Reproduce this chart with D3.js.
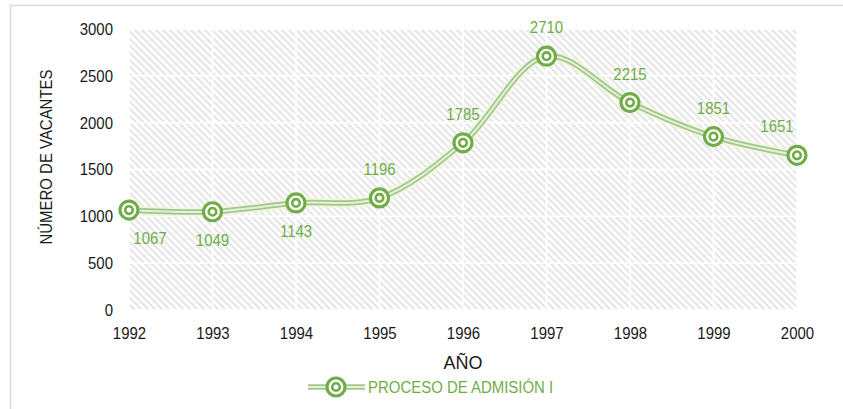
<!DOCTYPE html>
<html>
<head>
<meta charset="utf-8">
<script src="https://cdn.jsdelivr.net/npm/d3@7"></script>
<style>
  body { margin: 0; background: #fff; }
  svg { display: block; font-family: "Liberation Sans", Arial, sans-serif; }
</style>
</head>
<body>
<svg id="chart" width="843" height="409"></svg>
<script>
"use strict"

// data
const years = ["1992", "1993", "1994", "1995", "1996", "1997", "1998", "1999", "2000"]
const vacantes = [1067, 1049, 1143, 1196, 1785, 2710, 2215, 1851, 1651]
const yTicks = [0, 500, 1000, 1500, 2000, 2500, 3000]
const labelBelow = [true, true, true, false, false, false, false, false, false]
const seriesName = "PROCESO DE ADMISIÓN I"

const green = "#70AD47"
const ink = "#1a1a1a"
const squeeze = 0.88   // fake a narrow face from Liberation Sans
const svg = d3.select("#chart")

const margin = { top: 29, right: 46, bottom: 99, left: 129 }
const width = 843, height = 409

let x = d3.scalePoint()
    .domain(years)
    .range([margin.left, width - margin.right])

let y = d3.scaleLinear()
    .domain([0, 3000])
    .range([height - margin.bottom, margin.top])

function placeText(sel, px, py, rot) {
    sel.attr("x", 0).attr("y", 0)
        .attr("transform", "translate(" + px + "," + py + ")" + (rot ? " rotate(" + rot + ")" : "") + " scale(" + squeeze + ",1)")
}

// hatch pattern for the plot area
const defs = svg.append("defs")
const pat = defs.append("pattern")
    .attr("id", "hatch")
    .attr("patternUnits", "userSpaceOnUse")
    .attr("width", 7).attr("height", 7)
pat.append("rect").attr("width", 7).attr("height", 7).attr("fill", "#fff")
pat.append("path")
    .attr("d", "M-1,-1 L8,8 M-8,-1 L1,8 M6,-1 L15,8")
    .attr("stroke", "#e6e6e6")
    .attr("stroke-width", 2.2)

// outer chart border
svg.append("rect")
    .attr("x", 10.5).attr("y", 5.5)
    .attr("width", 900).attr("height", 500)
    .attr("fill", "none")
    .attr("stroke", "#d9d9d9")
    .attr("stroke-width", 1.5)

svg.append("rect")
    .attr("x", x.range()[0]).attr("y", y(3000))
    .attr("width", x.range()[1] - x.range()[0])
    .attr("height", y(0) - y(3000))
    .attr("fill", "url(#hatch)")

// white gridlines
const grid = svg.append("g")
grid.selectAll(".hgrid")
        .data(yTicks)
    .enter().append("line")
        .attr("x1", x.range()[0]).attr("x2", x.range()[1])
        .attr("y1", d => y(d)).attr("y2", d => y(d))
        .attr("stroke", "#fff").attr("stroke-width", 1.5)
grid.selectAll(".vgrid")
        .data(years)
    .enter().append("line")
        .attr("x1", d => x(d)).attr("x2", d => x(d))
        .attr("y1", y(3000)).attr("y2", y(0))
        .attr("stroke", "#fff").attr("stroke-width", 1.5)

// axes (text only)
const yAxis = svg.append("g")
    .attr("transform", "translate(" + (x.range()[0] - 16) + ",0)")
    .call(d3.axisLeft(y).tickValues(yTicks).tickFormat(d3.format("d")).tickSize(0).tickPadding(0))
yAxis.select(".domain").remove()
yAxis.selectAll("text")
    .attr("font-family", null)
    .attr("transform", "scale(" + squeeze + ",1)")
    .style("font-size", "17px").attr("fill", ink)

const xAxis = svg.append("g")
    .attr("transform", "translate(0," + (y(0) + 17) + ")")
    .call(d3.axisBottom(x).tickSize(0).tickPadding(0))
xAxis.select(".domain").remove()
xAxis.selectAll("text")
    .attr("font-family", null)
    .attr("transform", "scale(" + squeeze + ",1)")
    .style("font-size", "17px").attr("fill", ink)

svg.append("text")
    .attr("x", 463).attr("y", 369)
    .attr("text-anchor", "middle")
    .style("font-size", "18px").attr("fill", ink)
    .text("AÑO")

svg.append("text")
    .call(placeText, 52, 157, -90)
    .attr("text-anchor", "middle")
    .style("font-size", "17px").attr("fill", ink)
    .text("NÚMERO DE VACANTES")

// smoothed double line
const line = d3.line()
    .x((d, i) => x(years[i]))
    .y(d => y(d))
    .curve(d3.curveCatmullRom.alpha(0.5))

svg.append("path").datum(vacantes)
    .attr("d", line).attr("fill", "none")
    .attr("stroke", "#f1f6dc").attr("stroke-width", 10).attr("opacity", 0.8)
svg.append("path").datum(vacantes)
    .attr("d", line).attr("fill", "none")
    .attr("stroke", "#a3c78b").attr("stroke-width", 5.5)
svg.append("path").datum(vacantes)
    .attr("d", line).attr("fill", "none")
    .attr("stroke", "#e4f0dc").attr("stroke-width", 2)

function marker(g) {
    g.append("circle").attr("r", 9)
        .attr("fill", "#fff").attr("stroke", green).attr("stroke-width", 3.2)
    g.append("circle").attr("r", 3.8)
        .attr("fill", "#fff").attr("stroke", green).attr("stroke-width", 2.6)
}

const pts = svg.selectAll(".pt")
        .data(vacantes)
    .enter().append("g")
        .attr("transform", (d, i) => "translate(" + x(years[i]) + "," + y(d) + ")")
pts.call(marker)

const last = years.length - 1
svg.selectAll(".lbl")
        .data(vacantes)
    .enter().append("text")
        .each(function(d, i) {
            let dx = i === 0 ? 21 : (i === last ? -20 : 0)
            let dy = labelBelow[i] ? 34 : -23
            d3.select(this).call(placeText, x(years[i]) + dx, y(d) + dy)
        })
        .attr("text-anchor", "middle")
        .style("font-size", "17px")
        .attr("fill", green)
        .text(d => d)

// legend
const legend = svg.append("g").attr("transform", "translate(308,387)")
legend.append("line").attr("x1", 0).attr("x2", 57)
    .attr("stroke", "#a3c78b").attr("stroke-width", 5.5)
legend.append("line").attr("x1", 0).attr("x2", 57)
    .attr("stroke", "#e4f0dc").attr("stroke-width", 2)
legend.append("g").attr("transform", "translate(28,0)").call(marker)
legend.append("text")
    .call(placeText, 60, 6)
    .style("font-size", "17px").attr("fill", green)
    .text(seriesName)
</script>
</body>
</html>
